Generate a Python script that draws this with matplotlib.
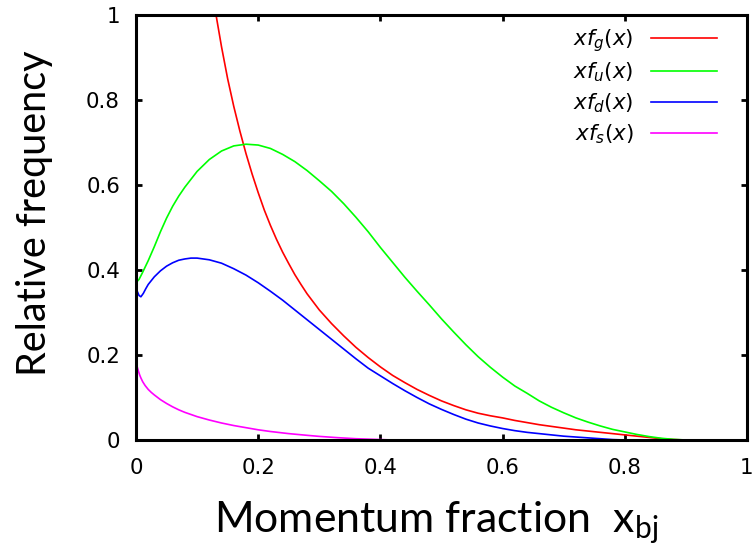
import matplotlib
matplotlib.use('Agg')
import matplotlib.pyplot as plt

# Distribuciones
x_g = [0.125, 0.131, 0.14, 0.15, 0.16, 0.17, 0.18, 0.19, 0.2, 0.21, 0.22, 0.23, 0.24,
       0.25, 0.26, 0.27, 0.28, 0.3, 0.32, 0.34, 0.36, 0.38, 0.4, 0.42, 0.44, 0.46, 0.48,
       0.5, 0.52, 0.54, 0.56, 0.58, 0.6, 0.62, 0.64, 0.66, 0.68, 0.7, 0.72, 0.74, 0.76,
       0.78, 0.8, 0.82, 0.84, 0.86, 0.88, 0.9, 1.0]
y_g = [1.06, 1.0, 0.925, 0.85, 0.785, 0.727, 0.674, 0.626, 0.582, 0.541, 0.505, 0.472,
       0.442, 0.415, 0.389, 0.366, 0.344, 0.306, 0.274, 0.245, 0.218, 0.194, 0.172, 0.152,
       0.135, 0.119, 0.105, 0.092, 0.081, 0.071, 0.063, 0.057, 0.052, 0.046, 0.041, 0.036,
       0.032, 0.028, 0.024, 0.021, 0.018, 0.015, 0.012, 0.009, 0.006, 0.003, 0.001, 0.0,
       0.0]

x_u = [0.0, 0.005, 0.01, 0.015, 0.02, 0.03, 0.04, 0.05, 0.06, 0.07, 0.08, 0.1, 0.12,
       0.14, 0.16, 0.18, 0.2, 0.22, 0.24, 0.26, 0.28, 0.3, 0.32, 0.34, 0.36, 0.38, 0.4,
       0.42, 0.44, 0.46, 0.48, 0.5, 0.52, 0.54, 0.56, 0.58, 0.6, 0.62, 0.64, 0.66, 0.68,
       0.7, 0.72, 0.74, 0.76, 0.78, 0.8, 0.82, 0.84, 0.86, 0.88, 0.9, 1.0]
y_u = [0.37, 0.378, 0.392, 0.407, 0.422, 0.455, 0.49, 0.522, 0.55, 0.574, 0.595, 0.632,
       0.66, 0.68, 0.692, 0.696, 0.694, 0.686, 0.672, 0.655, 0.634, 0.61, 0.585, 0.556,
       0.524, 0.49, 0.453, 0.418, 0.383, 0.35, 0.318, 0.285, 0.254, 0.224, 0.196, 0.171,
       0.148, 0.127, 0.11, 0.092, 0.077, 0.064, 0.052, 0.042, 0.033, 0.025, 0.019, 0.013,
       0.008, 0.004, 0.0015, 0.0, 0.0]

x_d = [0.0, 0.002, 0.005, 0.008, 0.012, 0.016, 0.02, 0.03, 0.04, 0.05, 0.06, 0.07, 0.08,
       0.09, 0.1, 0.12, 0.14, 0.16, 0.18, 0.2, 0.22, 0.24, 0.26, 0.28, 0.3, 0.32, 0.34,
       0.36, 0.38, 0.4, 0.42, 0.44, 0.46, 0.48, 0.5, 0.52, 0.54, 0.56, 0.58, 0.6, 0.62,
       0.64, 0.66, 0.68, 0.7, 0.72, 0.74, 0.76, 0.78, 0.8, 1.0]
y_d = [0.365, 0.35, 0.34, 0.337, 0.345, 0.356, 0.366, 0.384, 0.398, 0.409, 0.417, 0.423,
       0.426, 0.428, 0.428, 0.424, 0.416, 0.403, 0.388, 0.37, 0.35, 0.329, 0.306, 0.283,
       0.26, 0.237, 0.214, 0.191, 0.169, 0.151, 0.133, 0.116, 0.1, 0.085, 0.072, 0.06,
       0.049, 0.04, 0.033, 0.027, 0.022, 0.018, 0.015, 0.012, 0.009, 0.007, 0.005, 0.003,
       0.001, 0.0, 0.0]

x_s = [0.0, 0.001, 0.002, 0.004, 0.006, 0.008, 0.011, 0.015, 0.02, 0.025, 0.03, 0.04,
       0.05, 0.06, 0.07, 0.08, 0.1, 0.12, 0.14, 0.16, 0.18, 0.2, 0.22, 0.25, 0.28, 0.3,
       0.33, 0.36, 0.4, 0.42]
y_s = [0.195, 0.18, 0.172, 0.162, 0.153, 0.146, 0.137, 0.128, 0.119, 0.112, 0.106, 0.095,
       0.086, 0.078, 0.071, 0.065, 0.055, 0.047, 0.04, 0.034, 0.029, 0.024, 0.02, 0.015,
       0.011, 0.0085, 0.0055, 0.003, 0.001, 0.0]

etiquetas = [r'$xf_g(x)$', r'$xf_u(x)$', r'$xf_d(x)$', r'$xf_s(x)$']
colores = ['#ff0000', '#00ff00', '#0000ff', '#ff00ff']
ticks = [0, 0.2, 0.4, 0.6, 0.8, 1]
tick_labels = ['0', '0.2', '0.4', '0.6', '0.8', '1']

fig = plt.figure(figsize=(7.52, 5.52), dpi=100)
ax = fig.add_axes([136 / 752, 1 - 440 / 552, 611 / 752, 425 / 552])

series = [(x_g, y_g), (x_u, y_u), (x_d, y_d), (x_s, y_s)]
for (xs, ys), c, lab in zip(series, colores, etiquetas):
    ax.plot(xs, ys, color=c, lw=1.2, label=lab)

ax.set_xlim(0, 1)
ax.set_ylim(0, 1)
ax.set_xticks(ticks)
ax.set_xticklabels(tick_labels)
ax.set_yticks(ticks)
ax.set_yticklabels(tick_labels)
ax.tick_params(axis='both', direction='in', length=4.5, width=2, top=True, right=True,
               labelsize=15.4, colors='black')
ax.tick_params(axis='x', pad=13)
ax.tick_params(axis='y', pad=11.5)
for s in ax.spines.values():
    s.set_linewidth(2.2)

leg = ax.legend(loc='upper right', bbox_to_anchor=(0.951, 0.972), frameon=False,
                markerfirst=False, fontsize=15.4, handlelength=3.1, handletextpad=0.8,
                labelspacing=0.33, borderpad=0, borderaxespad=0)

fig.text(35 / 752, 1 - 213 / 552, 'Relative frequency', family='Lato', fontsize=28.5,
         rotation=90, ha='center', va='center')
fig.text(436 / 752, 1 - 532 / 552, r'Momentum fraction  x$_{\mathregular{bj}}$',
         family='Lato', fontsize=30.8, ha='center', va='baseline')

fig.savefig('out.png', dpi=100)
